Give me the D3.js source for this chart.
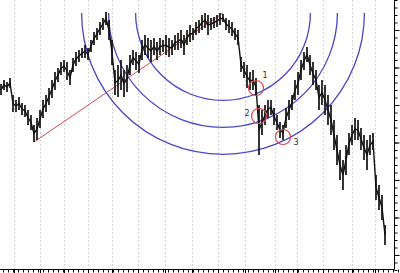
<!DOCTYPE html>
<html lang="en">
	<head>
		<meta charset="UTF-8" />
		<title>Fibonacci Arcs</title>
		<script src="https://d3js.org/d3.v7.min.js"></script>
		<style>
			body { margin: 0; background: #fff; }
			svg { display: block; }
		</style>
	</head>
	<body>
		<svg width="400" height="273"></svg>
		<script>
			const width = 400;
			const height = 273;

			// daily range per bar (price units)
			const highs = [
				1332, 1340, 1336, 1344, 1310, 1300, 1306, 1294, 1290, 1280, 1270, 1250, 1264, 1280, 1300, 1310,
				1324, 1340, 1356, 1364, 1376, 1380, 1376, 1360, 1384, 1396, 1400, 1404, 1410, 1404, 1420, 1436,
				1444, 1456, 1464, 1476, 1460, 1420, 1360, 1370, 1380, 1360, 1370, 1390, 1400, 1396, 1390, 1420,
				1430, 1424, 1420, 1424, 1416, 1424, 1420, 1430, 1424, 1420, 1430, 1434, 1440, 1430, 1440, 1450,
				1444, 1456, 1460, 1470, 1474, 1470, 1464, 1466, 1470, 1474, 1472, 1464, 1460, 1456, 1444, 1440,
				1386, 1376, 1370, 1356, 1360, 1344, 1290, 1280, 1290, 1300, 1300, 1284, 1270, 1256, 1250, 1284,
				1300, 1310, 1340, 1356, 1380, 1396, 1406, 1390, 1376, 1360, 1330, 1340, 1330, 1310, 1290, 1260,
				1230, 1200, 1180, 1210, 1234, 1250, 1264, 1260, 1244, 1230, 1220, 1230, 1234, 1150, 1130, 1110,
				1050,
			];
			const lows = [
				1310, 1320, 1316, 1324, 1276, 1276, 1280, 1270, 1266, 1250, 1240, 1216, 1220, 1244, 1264, 1276,
				1290, 1304, 1320, 1336, 1350, 1356, 1340, 1330, 1356, 1368, 1376, 1384, 1384, 1380, 1396, 1410,
				1420, 1430, 1440, 1450, 1420, 1370, 1310, 1306, 1320, 1306, 1316, 1350, 1370, 1360, 1354, 1380,
				1390, 1384, 1376, 1390, 1380, 1390, 1396, 1390, 1386, 1390, 1400, 1400, 1404, 1390, 1410, 1416,
				1420, 1430, 1434, 1440, 1444, 1430, 1440, 1444, 1446, 1450, 1456, 1440, 1434, 1428, 1420, 1410,
				1356, 1344, 1324, 1320, 1320, 1308, 1190, 1230, 1250, 1264, 1270, 1250, 1240, 1224, 1220, 1244,
				1260, 1280, 1300, 1310, 1340, 1360, 1376, 1350, 1330, 1320, 1280, 1290, 1270, 1250, 1230, 1200,
				1170, 1140, 1120, 1150, 1190, 1210, 1220, 1220, 1200, 1180, 1160, 1190, 1200, 1100, 1080, 1060,
				1010,
			];

			// trend line: swing low -> swing high (bar index, price)
			const trendStart = { i: 11, p: 1216 };
			const trendEnd = { i: 74, p: 1474 };
			const fibRatios = [0.382, 0.5, 0.618];

			// arc touch points
			const touches = [
				{ label: "1", i: 85, p: 1324, dx: 9, dy: -13 },
				{ label: "2", i: 86, p: 1268, dx: -12, dy: -3 },
				{ label: "3", i: 94, p: 1226, dx: 13, dy: 5 },
			];

			// month boundaries (bar index)
			const gridBars = [4.33, 13, 21, 29, 37, 45.67, 54.67, 63.67, 72.33, 81.33, 91.33, 98.67, 107.33, 117, 124.67];

			const x = d3.scaleLinear().domain([0, highs.length - 1]).range([1, 385]);
			const y = d3.scaleLinear().domain([1500, 960]).range([0, 270]);

			const svg = d3.select("svg");

			// vertical dotted grid
			svg.append("g")
				.selectAll("line")
				.data(gridBars)
				.join("line")
				.attr("x1", (d) => Math.round(x(d)) + 0.5)
				.attr("x2", (d) => Math.round(x(d)) + 0.5)
				.attr("y1", 0)
				.attr("y2", 269)
				.attr("stroke", "#d4d4d4")
				.attr("stroke-width", 1)
				.attr("stroke-dasharray", "2,2");

			// bottom axis
			const axisY = 269.5;
			svg.append("line")
				.attr("x1", 0).attr("x2", 394.5)
				.attr("y1", axisY).attr("y2", axisY)
				.attr("stroke", "#000");
			svg.append("g")
				.selectAll("line")
				.data(d3.range(-1, highs.length + 4, 5 / 3))
				.join("line")
				.attr("x1", (d) => Math.round(x(d)) + 0.5)
				.attr("x2", (d) => Math.round(x(d)) + 0.5)
				.attr("y1", axisY)
				.attr("y2", axisY + 3)
				.attr("stroke", "#000");
			svg.append("g")
				.selectAll("line")
				.data(gridBars)
				.join("line")
				.attr("x1", (d) => Math.round(x(d)) + 0.5)
				.attr("x2", (d) => Math.round(x(d)) + 0.5)
				.attr("y1", axisY)
				.attr("y2", axisY + 4)
				.attr("stroke", "#000");

			// right price axis
			const axisX = 394.5;
			const yAxis = d3.axisRight(y)
				.tickValues(d3.range(960, 1501, 15))
				.tickSize(3)
				.tickFormat("");
			svg.append("g")
				.attr("transform", `translate(${axisX},0)`)
				.call(yAxis)
				.call((g) => g.select(".domain").attr("d", `M0,0V${axisY}`));
			svg.append("g")
				.attr("transform", `translate(${axisX},0)`)
				.call(d3.axisRight(y).tickValues(d3.range(990, 1501, 75)).tickSize(5).tickFormat(""))
				.call((g) => g.select(".domain").remove());

			// trend line
			svg.append("line")
				.attr("x1", x(trendStart.i))
				.attr("y1", y(trendStart.p))
				.attr("x2", x(trendEnd.i))
				.attr("y2", y(trendEnd.p))
				.attr("stroke", "#d9474f")
				.attr("stroke-width", 1);

			// fibonacci arcs around the swing high
			const cx = x(trendEnd.i);
			const cy = y(trendEnd.p);
			const len = Math.hypot(x(trendEnd.i) - x(trendStart.i), y(trendEnd.p) - y(trendStart.p));
			svg.append("g")
				.selectAll("path")
				.data(fibRatios)
				.join("path")
				.attr("d", (r) => {
					const rad = r * len;
					return `M${cx - rad},${cy} A${rad},${rad} 0 0 0 ${cx + rad},${cy}`;
				})
				.attr("fill", "none")
				.attr("stroke", "#4b45c8")
				.attr("stroke-width", 1.3);

			// price bars
			svg.append("g")
				.selectAll("line")
				.data(highs)
				.join("line")
				.attr("x1", (d, i) => x(i))
				.attr("x2", (d, i) => x(i))
				.attr("y1", (d) => y(d))
				.attr("y2", (d, i) => y(lows[i]))
				.attr("stroke", "#111")
				.attr("stroke-width", 1.7);

			// connect bars with a thin line through mid ranges
			svg.append("path")
				.datum(highs)
				.attr("d", d3.line().x((d, i) => x(i)).y((d, i) => y((d + lows[i]) / 2)))
				.attr("fill", "none")
				.attr("stroke", "#111")
				.attr("stroke-width", 1.4);

			// touch circles
			svg.append("g")
				.selectAll("circle")
				.data(touches)
				.join("circle")
				.attr("cx", (d) => x(d.i))
				.attr("cy", (d) => y(d.p))
				.attr("r", 7.5)
				.attr("fill", "none")
				.attr("stroke", "#d9474f")
				.attr("stroke-width", 1.2);

			svg.append("g")
				.selectAll("text")
				.data(touches)
				.join("text")
				.attr("x", (d) => x(d.i) + d.dx)
				.attr("y", (d) => y(d.p) + d.dy)
				.attr("text-anchor", "middle")
				.attr("dominant-baseline", "middle")
				.style("font-family", "DejaVu Sans, sans-serif")
				.style("font-size", "8px")
				.attr("fill", "#333")
				.text((d) => d.label);
		</script>
	</body>
</html>
